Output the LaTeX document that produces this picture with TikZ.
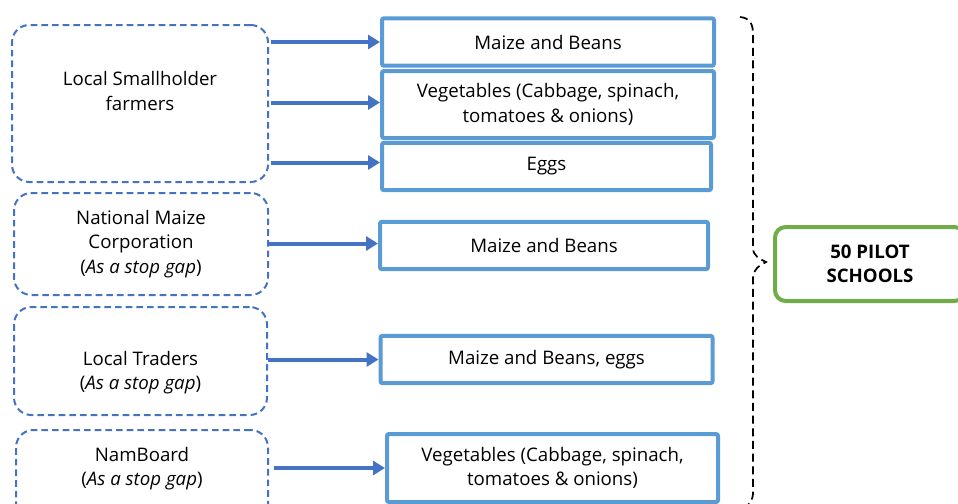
\documentclass[tikz,border=0pt]{standalone}
\usepackage{fontspec}
\setmainfont{Open Sans}
\usetikzlibrary{arrows.meta}
\usetikzlibrary{calc}
\definecolor{srcblue}{HTML}{4472C4}
\definecolor{itemblue}{HTML}{5B9BD5}
\definecolor{schoolgreen}{HTML}{70AD47}

\begin{document}
\begin{tikzpicture}[
        x=0.75pt, y=-0.75pt,
        font=\fontsize{14}{18.5}\selectfont,
        source/.style={draw=srcblue, line width=1.5pt, dash pattern=on 5pt off 3pt,
            rounded corners=13pt, inner sep=0pt},
        item/.style={draw=itemblue, line width=3pt, rounded corners=1.5pt,
            align=center, inner sep=0pt, minimum width=249pt, minimum height=35.5pt},
        supply/.style={draw=srcblue, line width=3pt, -{Triangle[length=9pt, width=10.5pt]}},
        school/.style={draw=schoolgreen, line width=3pt, rounded corners=8pt,
            align=center, font=\fontsize{14}{18}\selectfont\bfseries}
    ]
        \useasboundingbox (0,0) rectangle (958,504);

        % --- Proveedores (cajas punteadas) ---
        \node[source, minimum width=192pt, minimum height=117.75pt] (farmers) at (140,103.5) {};
        \node[align=center] (farmerstxt) at (140,91) {Local Smallholder\\farmers};

        \node[source, align=center, minimum width=190.5pt, minimum height=76.5pt] (nmc) at (141,244)
            {National Maize\\Corporation\\(\textit{As a stop gap})};

        \node[source, minimum width=189.75pt, minimum height=81pt] (traders) at (140.5,361) {};
        \node[align=center] (traderstxt) at (140.5,372.5) {Local Traders\\(\textit{As a stop gap})};

        \node[source, minimum width=189pt, minimum height=75pt] (namboard) at (142,480) {};
        \node[align=center] (namboardtxt) at (142,468.5) {NamBoard\\(\textit{As a stop gap})};

        % --- Productos ---
        \node[item] (maize1) at (548,42) {Maize and Beans};
        \node[item, minimum height=50.25pt] (veg1) at (548,104.5)
            {Vegetables (Cabbage, spinach,\\tomatoes \& onions)};
        \node[item, minimum width=246.75pt] (eggs) at (546.5,166.5) {Eggs};
        \node[item, minimum width=246pt] (maize2) at (544,245.5) {Maize and Beans};
        \node[item] (maize3) at (546.5,359.5) {Maize and Beans, eggs};
        \node[item, minimum width=248.25pt, minimum height=51pt] (veg2) at (552.5,468)
            {Vegetables (Cabbage, spinach,\\tomatoes \& onions)};

        % --- Flechas de suministro ---
        \draw[supply] ($(farmers.east |- maize1.west)+(2,0)$) -- (maize1.west);
        \draw[supply] ($(farmers.east |- veg1.west)+(2,-2)$) -- ($(veg1.west)+(0,-2)$);
        \draw[supply] ($(farmers.east |- eggs.west)+(2,-4)$) -- ($(eggs.west)+(0,-4)$);
        \draw[supply] ($(nmc.east |- maize2.west)+(0,-2)$) -- ($(maize2.west)+(0,-2)$);
        \draw[supply] (traders.east |- maize3.west) -- (maize3.west);
        \draw[supply] ($(namboard.east |- veg2.west)+(5,0)$) -- (veg2.west);

        % --- Llave y escuelas piloto ---
        \draw[line width=1.3pt, dash pattern=on 6pt off 3.5pt]
            (740,17) .. controls (750,18) and (753,24) .. (753,34)
            -- (753,248) .. controls (753,256) and (760,259) .. (766,262)
            .. controls (760,265) and (753,269) .. (753,278)
            -- (753,492) .. controls (753,500) and (750,504) .. (745,507);
        \node[school, minimum width=142.5pt, minimum height=55.5pt] (schools) at (870,264)
            {50 PILOT\\SCHOOLS};

\end{tikzpicture}
\end{document}
